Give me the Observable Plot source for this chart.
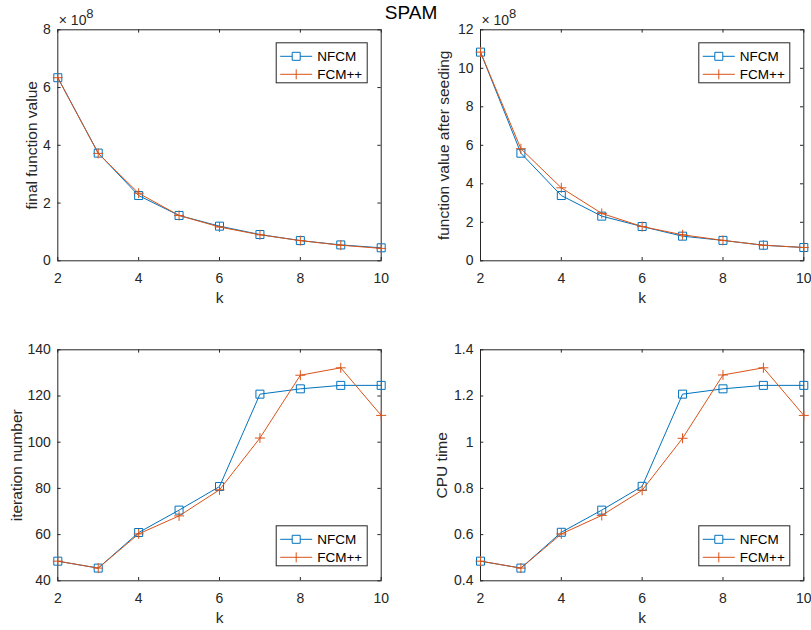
<!DOCTYPE html>
<html><head><meta charset="utf-8">
<script src="https://cdn.jsdelivr.net/npm/d3@7"></script>
<script src="https://cdn.jsdelivr.net/npm/@observablehq/plot@0.6"></script>
<style>
body{margin:0;background:#fff;}
#chart{position:relative;width:811px;height:630px;font-family:"Liberation Sans",Arial,Helvetica,sans-serif;background:#fff;overflow:hidden;}
#chart svg{position:absolute;}
#title{position:absolute;left:0;width:822px;top:2px;text-align:center;font-size:19px;color:#000;}
</style></head><body><div id="chart"><div id="title">SPAM</div></div>
<script>
// ---- data ----
const kValues = [2, 3, 4, 5, 6, 7, 8, 9, 10];
const seriesNames = ["NFCM", "FCM++"];
const xTicks = [2, 4, 6, 8, 10];

const finalNFCM  = [6.34e8, 3.73e8, 2.26e8, 1.57e8, 1.20e8, 0.91e8, 0.70e8, 0.55e8, 0.45e8];
const finalFCMpp = [6.34e8, 3.72e8, 2.34e8, 1.57e8, 1.17e8, 0.90e8, 0.70e8, 0.54e8, 0.43e8];
const finalTicks = [0, 2e8, 4e8, 6e8, 8e8];

const seedNFCM  = [10.84e8, 5.59e8, 3.39e8, 2.32e8, 1.78e8, 1.28e8, 1.06e8, 0.81e8, 0.69e8];
const seedFCMpp = [10.84e8, 5.82e8, 3.79e8, 2.46e8, 1.78e8, 1.35e8, 1.06e8, 0.81e8, 0.69e8];
const seedTicks = [0, 2e8, 4e8, 6e8, 8e8, 10e8, 12e8];

const iterNFCM  = [48.5, 45.5, 60.9, 70.6, 80.8, 120.8, 123.1, 124.6, 124.6];
const iterFCMpp = [48.5, 45.5, 60.3, 68.1, 79.4, 101.8, 129.0, 132.2, 111.6];
const iterTicks = [40, 60, 80, 100, 120, 140];

const cpuNFCM  = [0.485, 0.455, 0.610, 0.706, 0.809, 1.208, 1.231, 1.246, 1.246];
const cpuFCMpp = [0.485, 0.455, 0.603, 0.683, 0.792, 1.017, 1.291, 1.322, 1.116];
const cpuTicks = [0.4, 0.6, 0.8, 1.0, 1.2, 1.4];

// ---- style ----
const FONT = '"Liberation Sans", Arial, Helvetica, sans-serif';
const AX = "#262626";
const BLUE = "#0072BD";
const RED = "#D95319";
const TL = 3.3; // inner tick length

const squareSym = {draw(ctx) { const h = 4; ctx.moveTo(-h, -h); ctx.lineTo(h, -h); ctx.lineTo(h, h); ctx.lineTo(-h, h); ctx.closePath(); }};
const plusSym = {draw(ctx) { const h = 5; ctx.moveTo(-h, 0); ctx.lineTo(h, 0); ctx.moveTo(0, -h); ctx.lineTo(0, h); }};
const legSquare = {draw(ctx) { ctx.moveTo(-16, 0); ctx.lineTo(-4, 0); ctx.moveTo(4, 0); ctx.lineTo(16, 0);
  const h = 4; ctx.moveTo(-h, -h); ctx.lineTo(h, -h); ctx.lineTo(h, h); ctx.lineTo(-h, h); ctx.closePath(); }};
const legPlus = {draw(ctx) { ctx.moveTo(-16, 0); ctx.lineTo(16, 0); ctx.moveTo(0, -5); ctx.lineTo(0, 5); }};

function fmt1(d) { return String(+d.toFixed(1)); }

function panel(o) {
  const {left, top, width, height, mL, mR, mT, mB, yDomain, yTicks, yFormat, yLabel, yLabelDx, nf, fp, legendTop, expo} = o;
  const fw = width - mL - mR, fh = height - mT - mB;
  const nfRows = kValues.map((k, i) => ({k, v: nf[i], s: seriesNames[0]}));
  const fpRows = kValues.map((k, i) => ({k, v: fp[i], s: seriesNames[1]}));
  // legend box geometry (relative to frame)
  const lbW = 91, lbH = 40;
  const lbL = fw - 14 - lbW;
  const lbT = legendTop ? 13 : fh - 15 - lbH;
  const marks = [
    Plot.frame({stroke: AX, strokeWidth: 1}),
    Plot.tickX(xTicks, {x: d => d, insetTop: fh - TL, stroke: AX}),
    Plot.tickX(xTicks, {x: d => d, insetBottom: fh - TL, stroke: AX}),
    Plot.tickY(yTicks, {y: d => d, insetRight: fw - TL, stroke: AX}),
    Plot.tickY(yTicks, {y: d => d, insetLeft: fw - TL, stroke: AX}),
    Plot.axisX({ticks: xTicks, tickSize: 0, tickPadding: 12, label: null, tickFormat: d => String(d), fontSize: 14}),
    Plot.axisY({ticks: yTicks, tickSize: 0, tickPadding: 7, label: null, tickFormat: yFormat, fontSize: 14}),
    Plot.text(["k"], {frameAnchor: "bottom", dy: 42.5, lineAnchor: "bottom", fontSize: 15.5, fill: AX}),
    Plot.text([yLabel], {frameAnchor: "left", rotate: -90, dx: yLabelDx, lineAnchor: "middle", textAnchor: "middle", fontSize: 15.5, fill: AX}),
    Plot.line(nfRows, {x: "k", y: "v", stroke: BLUE, strokeWidth: 1}),
    Plot.dot(nfRows, {x: "k", y: "v", stroke: BLUE, fill: "none", symbol: squareSym, strokeWidth: 1}),
    Plot.line(fpRows, {x: "k", y: "v", stroke: RED, strokeWidth: 1}),
    Plot.dot(fpRows, {x: "k", y: "v", stroke: RED, fill: "none", symbol: plusSym, strokeWidth: 1}),
    // legend
    Plot.frame({insetLeft: lbL, insetRight: fw - lbL - lbW, insetTop: lbT, insetBottom: fh - lbT - lbH, fill: "white", stroke: AX, strokeWidth: 1}),
    Plot.dot([seriesNames[0]], {frameAnchor: "top-left", dx: lbL + 20, dy: lbT + 13.5, symbol: legSquare, stroke: BLUE, fill: "none", strokeWidth: 1}),
    Plot.dot([seriesNames[1]], {frameAnchor: "top-left", dx: lbL + 20, dy: lbT + 31.5, symbol: legPlus, stroke: RED, fill: "none", strokeWidth: 1}),
    Plot.text([seriesNames[0]], {frameAnchor: "top-left", dx: lbL + 41, dy: lbT + 13.5, text: d => d, textAnchor: "start", lineAnchor: "middle", fontSize: 13.5, fill: "#000"}),
    Plot.text([seriesNames[1]], {frameAnchor: "top-left", dx: lbL + 41, dy: lbT + 31.5, text: d => d, textAnchor: "start", lineAnchor: "middle", fontSize: 13.5, fill: "#000"})
  ];
  if (expo) {
    marks.push(Plot.text(["\u00d7 10"], {frameAnchor: "top-left", dx: 1, dy: -5, lineAnchor: "bottom", textAnchor: "start", fontSize: 14, fill: AX}));
    marks.push(Plot.text(["8"], {frameAnchor: "top-left", dx: 28.5, dy: -11.5, lineAnchor: "bottom", textAnchor: "start", fontSize: 13, fill: AX}));
  }
  const svg = Plot.plot({
    width, height, marginLeft: mL, marginRight: mR, marginTop: mT, marginBottom: mB,
    style: {fontFamily: FONT, fontSize: "14px", color: AX, background: "transparent", overflow: "visible"},
    x: {domain: [2, 10]},
    y: {domain: yDomain},
    marks
  });
  svg.style.left = left + "px";
  svg.style.top = top + "px";
  svg.style.position = "absolute";
  document.getElementById("chart").appendChild(svg);
}

panel({left: 0, top: 0, width: 405, height: 315, mL: 57.3, mR: 24.3, mT: 29.3, mB: 54.7,
  yDomain: [0, 8e8], yTicks: finalTicks, yFormat: d => fmt1(d / 1e8), yLabel: "final function value", yLabelDx: -25.8,
  nf: finalNFCM, fp: finalFCMpp, legendTop: true, expo: true});
panel({left: 405, top: 0, width: 406, height: 315, mL: 75, mR: 7.7, mT: 29.3, mB: 54.7,
  yDomain: [0, 12e8], yTicks: seedTicks, yFormat: d => fmt1(d / 1e8), yLabel: "function value after seeding", yLabelDx: -36.5,
  nf: seedNFCM, fp: seedFCMpp, legendTop: true, expo: true});
panel({left: 0, top: 315, width: 405, height: 315, mL: 57.3, mR: 24.3, mT: 34.3, mB: 49.7,
  yDomain: [40, 140], yTicks: iterTicks, yFormat: d => String(d), yLabel: "iteration number", yLabelDx: -41,
  nf: iterNFCM, fp: iterFCMpp, legendTop: false, expo: false});
panel({left: 405, top: 315, width: 406, height: 315, mL: 75, mR: 7.7, mT: 34.3, mB: 49.7,
  yDomain: [0.4, 1.4], yTicks: cpuTicks, yFormat: fmt1, yLabel: "CPU time", yLabelDx: -38,
  nf: cpuNFCM, fp: cpuFCMpp, legendTop: false, expo: false});
</script></body></html>
